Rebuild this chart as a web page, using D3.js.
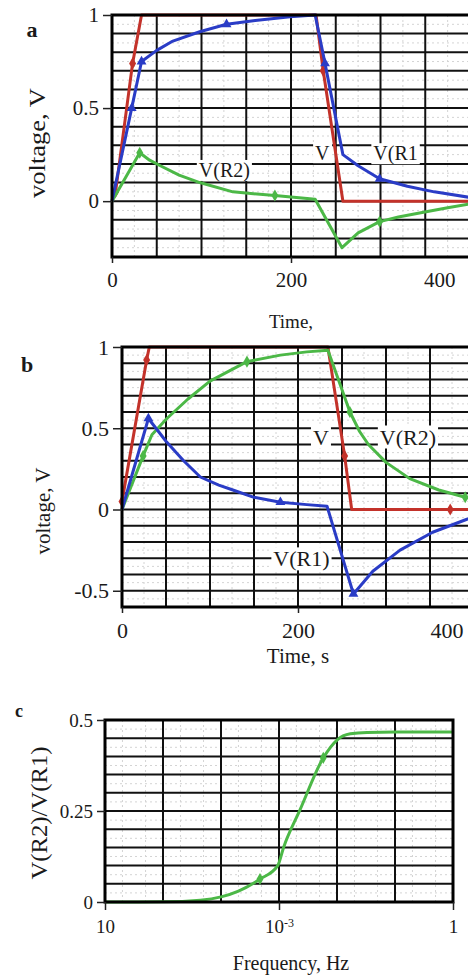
<!DOCTYPE html>
<html><head><meta charset="utf-8">
<script src="https://cdn.jsdelivr.net/npm/d3@7"></script>
<style>
body{margin:0;background:#fff}
svg{display:block}
text{font-family:"Liberation Serif","DejaVu Serif",serif;fill:#1a1a1a}
</style>
</head><body>
<svg id="chart" width="468" height="978"></svg>
<script>
// ---------- Panel a ----------
const timeA_V  = [0, 4, 23, 33, 228, 236, 258, 400];
const voltA_V  = [0, 0.05, 0.74, 1, 1, 0.70, 0, 0];
const markA_V  = [1, 2, 5];
const timeA_R1 = [0, 22, 33, 50, 68, 98, 128, 160, 199, 227, 238, 258, 275, 299, 330, 360, 400];
const voltA_R1 = [0, 0.5, 0.75, 0.81, 0.86, 0.91, 0.95, 0.97, 0.99, 1.0, 0.74, 0.25, 0.19, 0.12, 0.08, 0.05, 0.02];
const markA_R1 = [1, 2, 6, 10, 13];
const timeA_R2 = [0, 31, 42, 54, 75, 98, 135, 182, 227, 257, 275, 299, 320, 348, 375, 400];
const voltA_R2 = [0, 0.26, 0.22, 0.19, 0.14, 0.10, 0.05, 0.03, 0.01, -0.25, -0.17, -0.11, -0.085, -0.06, -0.035, -0.015];
const markA_R2 = [1, 7, 11];
const yTicksA = [0, 0.5, 1];
const xTicksA = [0, 200, 400];

// ---------- Panel b ----------
const timeB_V  = [0, 28, 31, 234, 253, 261, 373, 400];
const voltB_V  = [0.05, 0.92, 1, 1, 0.33, 0, 0, 0];
const markB_V  = [0, 1, 4, 6];
const timeB_R2 = [0, 24, 34, 51, 75, 100, 142, 180, 210, 234, 259, 270, 280, 300, 327, 360, 390, 400];
const voltB_R2 = [0, 0.33, 0.46, 0.56, 0.68, 0.79, 0.91, 0.95, 0.97, 0.98, 0.60, 0.48, 0.40, 0.29, 0.19, 0.12, 0.075, 0.065];
const markB_R2 = [1, 6, 10, 16];
const timeB_R1 = [0, 30, 50, 70, 89, 110, 126, 150, 180, 210, 233, 263, 285, 316, 353, 392, 400];
const voltB_R1 = [0, 0.56, 0.42, 0.30, 0.20, 0.15, 0.12, 0.075, 0.045, 0.03, 0.02, -0.52, -0.38, -0.25, -0.14, -0.06, -0.05];
const markB_R1 = [1, 8, 11];
const yTicksB = [-0.5, 0, 0.5, 1];
const xTicksB = [0, 200, 400];

// ---------- Panel c ----------
const freqC  = [1e-6, 1e-5, 4.4e-5, 1e-4, 2e-4, 4.7e-4, 9.5e-4, 1.2e-3, 2.3e-3, 5.8e-3, 1e-2, 1.7e-2, 3.3e-2, 0.1, 1];
const ratioC = [0, 0.0005, 0.005, 0.014, 0.03, 0.063, 0.10, 0.15, 0.253, 0.396, 0.445, 0.462, 0.466, 0.467, 0.467];
const markC  = [5, 9];
const yTicksC = [0, 0.25, 0.5];
const xTicksC = [1e-6, 1e-3, 1];
const xTickLabelsC = [["10", ""], ["10", "-3"], ["1", ""]];

const RED = "#c3322a", BLUE = "#2a3cc6", GREEN = "#4cb847";
const svg = d3.select("#chart");

function zip(xs, ys) { return xs.map((x, i) => [x, ys[i]]); }

function drawPanel(p) {
  const g = svg.append("g");
  const x = p.x, y = p.y;
  const [xl, xr] = x.range(), [yb, yt] = y.range();
  // minor grid
  const minor = g.append("g").attr("stroke", "#d4d4d4").attr("stroke-width", 1).attr("stroke-dasharray", "2,3");
  p.xMinor.forEach(v => minor.append("line").attr("x1", x(v)).attr("x2", x(v)).attr("y1", yt).attr("y2", yb));
  p.yMinor.forEach(v => minor.append("line").attr("x1", xl).attr("x2", xr).attr("y1", y(v)).attr("y2", y(v)));
  // major grid
  const major = g.append("g").attr("stroke", "#111").attr("stroke-width", 2);
  p.xMajor.forEach(v => major.append("line").attr("x1", x(v)).attr("x2", x(v)).attr("y1", yt).attr("y2", yb));
  p.yMajor.forEach(v => major.append("line").attr("x1", xl).attr("x2", xr).attr("y1", y(v)).attr("y2", y(v)));
  // series labels with white boxes
  (p.labels || []).forEach(l => {
    const t = g.append("text").attr("x", x(l.t)).attr("y", y(l.v))
      .attr("text-anchor", l.anchor || "start").attr("font-size", l.size).text(l.text);
    const bb = t.node().getBBox();
    g.insert("rect", () => t.node()).attr("x", bb.x - 2).attr("y", bb.y + 1)
      .attr("width", bb.width + 4).attr("height", bb.height - 2).attr("fill", "#fff");
  });
  // series
  p.series.forEach(s => {
    const pts = zip(s.xs, s.ys);
    g.append("path").datum(pts).attr("fill", "none").attr("stroke", s.color)
      .attr("stroke-width", 3).attr("stroke-linejoin", "round")
      .attr("d", d3.line().x(d => x(d[0])).y(d => y(d[1])).curve(s.curve || d3.curveLinear));
    g.selectAll(null).data(s.marks.map(i => pts[i])).join("path")
      .attr("transform", d => `translate(${x(d[0])},${y(d[1])})`)
      .attr("fill", s.color)
      .attr("d", d3.symbol().type(s.symbol).size(42));
  });
  // frame
  const frame = g.append("g").attr("stroke", "#000").attr("stroke-width", 3).attr("fill", "none");
  frame.append("rect").attr("x", xl).attr("y", yt).attr("width", xr - xl).attr("height", yb - yt);
  // axes
  const ya = g.append("g").attr("transform", `translate(${xl},0)`)
    .call(d3.axisLeft(y).tickValues(p.yTicks).tickSize(p.tickL).tickPadding(4).tickFormat(d => String(d)));
  ya.attr("font-family", null);
  ya.select(".domain").remove();
  ya.selectAll("line").attr("stroke", "#222").attr("stroke-width", 1.5);
  ya.selectAll("text").attr("font-size", p.font).attr("fill", "#1a1a1a")
    .style("font-family", '"Liberation Serif",serif');
  const xa = g.append("g").attr("transform", `translate(0,${yb})`)
    .call(d3.axisBottom(x).tickValues(p.xTicks).tickSize(p.tickB).tickPadding(p.padB).tickFormat(p.xFmt || (d => String(d))));
  xa.attr("font-family", null);
  xa.select(".domain").remove();
  xa.selectAll("line").attr("stroke", "#222").attr("stroke-width", 1.5);
  xa.selectAll("text").attr("font-size", p.font).attr("fill", "#1a1a1a")
    .style("font-family", '"Liberation Serif",serif');
  return {g, xa, ya};
}

// ---------- a ----------
const xA = d3.scaleLinear().domain([0, 400]).range([112, 470]);
const yA = d3.scaleLinear().domain([-0.3, 1]).range([257, 15]);
const A = drawPanel({
  x: xA, y: yA,
  xMajor: d3.range(50, 400, 50), xMinor: d3.range(25, 400, 50),
  yMajor: d3.range(-2, 10).map(d => d / 10), yMinor: d3.range(-5, 20, 2).map(d => d / 20),
  yTicks: yTicksA, xTicks: xTicksA, tickL: 9, tickB: 6, padB: 9, font: 21,
  series: [
    {xs: timeA_V, ys: voltA_V, marks: markA_V, color: RED, symbol: d3.symbolDiamond},
    {xs: timeA_R2, ys: voltA_R2, marks: markA_R2, color: GREEN, symbol: d3.symbolDiamond},
    {xs: timeA_R1, ys: voltA_R1, marks: markA_R1, color: BLUE, symbol: d3.symbolTriangle}
  ],
  labels: [
    {text: "V", t: 235, v: 0.22, size: 20, anchor: "middle"},
    {text: "V(R1", t: 292, v: 0.22, size: 20},
    {text: "V(R2)", t: 97, v: 0.13, size: 20}
  ]
});
A.xa.selectAll(".tick text").filter(d => d === 400).attr("text-anchor", "end").attr("dx", -15);

// ---------- b ----------
const xB = d3.scaleLinear().domain([0, 400]).range([122, 474]);
const yB = d3.scaleLinear().domain([-0.6, 1]).range([607, 347]);
const B = drawPanel({
  x: xB, y: yB,
  xMajor: d3.range(50, 400, 50), xMinor: d3.range(25, 400, 50),
  yMajor: d3.range(-5, 10).map(d => d / 10), yMinor: d3.range(-11, 20, 2).map(d => d / 20),
  yTicks: yTicksB, xTicks: xTicksB, tickL: 9, tickB: 6, padB: 9, font: 22,
  series: [
    {xs: timeB_V, ys: voltB_V, marks: markB_V, color: RED, symbol: d3.symbolDiamond},
    {xs: timeB_R2, ys: voltB_R2, marks: markB_R2, color: GREEN, symbol: d3.symbolDiamond},
    {xs: timeB_R1, ys: voltB_R1, marks: markB_R1, color: BLUE, symbol: d3.symbolTriangle}
  ],
  labels: [
    {text: "V", t: 217, v: 0.40, size: 22},
    {text: "V(R2)", t: 293, v: 0.40, size: 22},
    {text: "V(R1)", t: 172, v: -0.35, size: 22}
  ]
});
B.xa.selectAll(".tick text").filter(d => d === 400).attr("text-anchor", "end").attr("dx", -11);

// ---------- c ----------
const xC = d3.scaleLog().domain([1e-6, 1]).range([105, 453]);
const yC = d3.scaleLinear().domain([0, 0.5]).range([902, 720]);
const xMinorC = [];
for (let e = -6; e < 0; e++) [2, 5].forEach(m => xMinorC.push(m * Math.pow(10, e)));
const C = drawPanel({
  x: xC, y: yC,
  xMajor: d3.range(-5, 0).map(e => Math.pow(10, e)), xMinor: xMinorC,
  yMajor: d3.range(1, 10).map(d => d / 20), yMinor: d3.range(1, 20, 2).map(d => d / 40),
  yTicks: yTicksC, xTicks: xTicksC, tickL: 8, tickB: 8, padB: 10, font: 19,
  xFmt: () => "",
  series: [
    {xs: freqC, ys: ratioC, marks: markC, color: GREEN, symbol: d3.symbolDiamond, curve: d3.curveMonotoneX}
  ]
});
C.xa.selectAll(".tick text").each(function(d, i) {
  const t = d3.select(this);
  t.text(null);
  t.append("tspan").text(xTickLabelsC[i][0]);
  if (xTickLabelsC[i][1]) t.append("tspan").attr("font-size", 12).attr("dy", "-0.55em").text(xTickLabelsC[i][1]);
});

// ---------- titles ----------
function txt(s, x, y, size, opts = {}) {
  const t = svg.append("text").attr("x", x).attr("y", y).attr("font-size", size)
    .attr("text-anchor", opts.anchor || "middle").text(s);
  if (opts.bold) t.attr("font-weight", "bold");
  if (opts.rot) t.attr("transform", `rotate(-90,${x},${y})`);
  if (opts.len) t.attr("textLength", opts.len).attr("lengthAdjust", "spacingAndGlyphs");
  return t;
}
txt("a", 32, 37, 22, {bold: true});
txt("b", 27, 372, 22, {bold: true});
txt("c", 19, 717, 18, {bold: true});
txt("voltage, V", 45, 143, 23, {rot: true, len: 110});
txt("voltage, V", 50, 511, 21, {rot: true});
txt("V(R2)/V(R1)", 47, 813, 23, {rot: true, len: 133});
txt("Time,", xA(200), 328, 19);
txt("Time, s", xB(200), 663, 21);
txt("Frequency, Hz", 291, 970, 20);
</script>
</body></html>
